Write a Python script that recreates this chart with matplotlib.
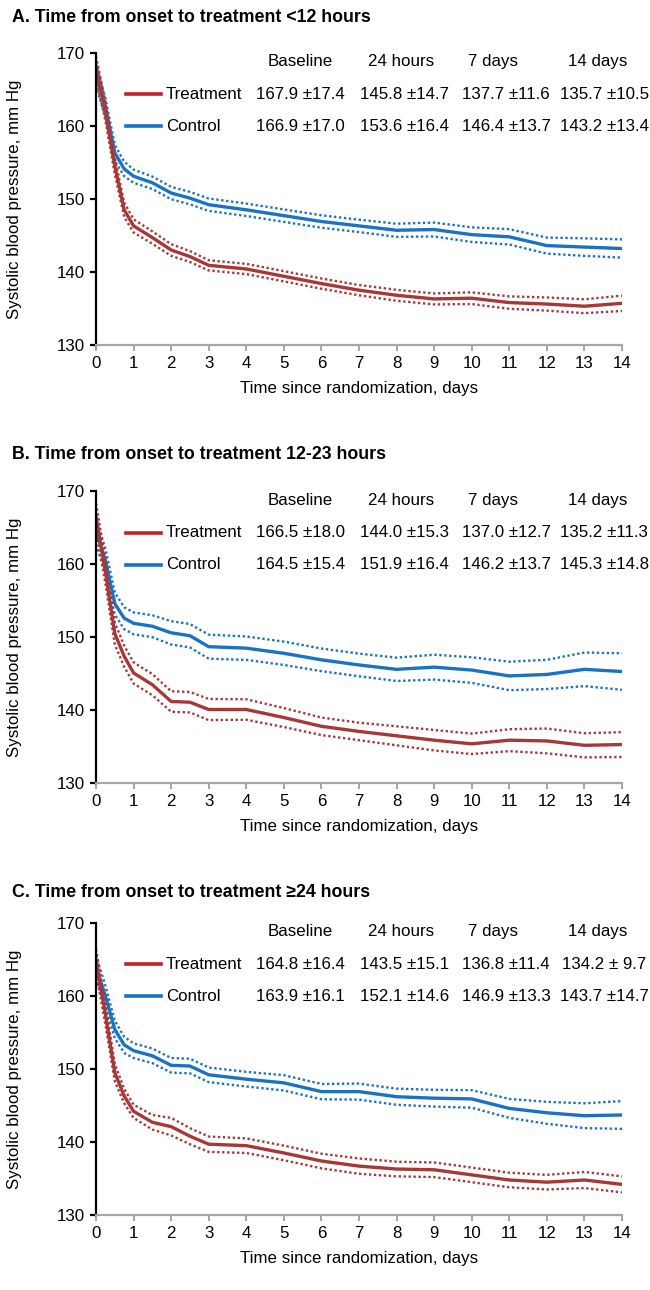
import matplotlib
matplotlib.use('Agg')
import matplotlib.pyplot as plt
from matplotlib.lines import Line2D
import numpy as np

plt.rcParams['font.family'] = ['Liberation Sans', 'DejaVu Sans']

# days since randomization
days = [0, 0.25, 0.5, 0.75, 1, 1.5, 2, 2.5, 3, 4, 5, 6, 7, 8, 9, 10, 11, 12, 13, 14]

# panel A: onset to treatment <12 hours
a_treat = [168.0, 162.0, 154.5, 148.5, 146.3, 144.7, 143.0, 142.1, 140.9, 140.4, 139.4, 138.4,
           137.5, 136.8, 136.3, 136.4, 135.8, 135.6, 135.3, 135.7]
a_treat_ci = [1.5, 1.3, 1.1, 1.0, 0.9, 0.85, 0.8, 0.75, 0.7, 0.7, 0.7, 0.7, 0.7, 0.75, 0.75,
              0.8, 0.85, 0.9, 0.95, 1.05]
a_ctrl = [167.0, 162.5, 156.3, 154.1, 153.1, 152.2, 150.8, 150.1, 149.2, 148.5, 147.7, 146.9,
          146.3, 145.7, 145.8, 145.1, 144.8, 143.6, 143.4, 143.2]
a_ctrl_ci = [1.5, 1.3, 1.1, 1.0, 0.9, 0.85, 0.85, 0.85, 0.85, 0.85, 0.85, 0.85, 0.85, 0.9, 0.95,
             1.0, 1.05, 1.1, 1.2, 1.25]

# panel B: 12-23 hours
b_treat = [166.5, 159.0, 150.5, 147.4, 145.1, 143.5, 141.2, 141.1, 140.1, 140.1, 139.0, 137.8,
           137.1, 136.5, 135.9, 135.4, 135.9, 135.8, 135.2, 135.3]
b_treat_ci = [1.8, 1.6, 1.5, 1.45, 1.45, 1.45, 1.4, 1.4, 1.45, 1.4, 1.3, 1.2, 1.2, 1.3, 1.4,
              1.4, 1.5, 1.7, 1.65, 1.7]
b_ctrl = [164.5, 160.5, 154.6, 152.6, 151.9, 151.5, 150.6, 150.2, 148.7, 148.5, 147.8, 146.9,
          146.2, 145.6, 145.9, 145.5, 144.7, 144.9, 145.6, 145.3]
b_ctrl_ci = [1.8, 1.6, 1.5, 1.5, 1.5, 1.5, 1.6, 1.6, 1.65, 1.6, 1.6, 1.55, 1.55, 1.6, 1.7,
             1.75, 1.95, 2.0, 2.3, 2.5]

# panel C: >=24 hours
c_treat = [164.8, 157.5, 149.5, 146.3, 144.2, 142.7, 142.1, 140.8, 139.7, 139.5, 138.5, 137.4,
           136.7, 136.3, 136.2, 135.5, 134.8, 134.5, 134.8, 134.2]
c_treat_ci = [1.6, 1.4, 1.2, 1.0, 0.9, 1.0, 1.2, 1.1, 1.05, 1.0, 1.0, 1.0, 1.05, 1.0, 1.0,
              1.0, 1.0, 1.0, 1.1, 1.1]
c_ctrl = [163.9, 160.0, 155.4, 153.3, 152.5, 151.8, 150.5, 150.4, 149.2, 148.6, 148.1, 146.9,
          146.9, 146.2, 146.0, 145.9, 144.6, 144.0, 143.6, 143.7]
c_ctrl_ci = [1.6, 1.4, 1.2, 1.1, 1.0, 1.0, 1.0, 1.0, 1.0, 1.0, 1.05, 1.05, 1.1, 1.1, 1.15,
             1.2, 1.3, 1.5, 1.7, 1.9]

titles = ['A. Time from onset to treatment <12 hours',
          'B. Time from onset to treatment 12-23 hours',
          'C. Time from onset to treatment \u226524 hours']
headers = ['Baseline', '24 hours', '7 days', '14 days']
a_treat_txt = ['167.9 \u00b117.4', '145.8 \u00b114.7', '137.7 \u00b111.6', '135.7 \u00b110.5']
a_ctrl_txt = ['166.9 \u00b117.0', '153.6 \u00b116.4', '146.4 \u00b113.7', '143.2 \u00b113.4']
b_treat_txt = ['166.5 \u00b118.0', '144.0 \u00b115.3', '137.0 \u00b112.7', '135.2 \u00b111.3']
b_ctrl_txt = ['164.5 \u00b115.4', '151.9 \u00b116.4', '146.2 \u00b113.7', '145.3 \u00b114.8']
c_treat_txt = ['164.8 \u00b116.4', '143.5 \u00b115.1', '136.8 \u00b111.4', '134.2 \u00b1 9.7']
c_ctrl_txt = ['163.9 \u00b116.1', '152.1 \u00b114.6', '146.9 \u00b113.3', '143.7 \u00b114.7']

panels = [
    (a_treat, a_treat_ci, a_ctrl, a_ctrl_ci, a_treat_txt, a_ctrl_txt),
    (b_treat, b_treat_ci, b_ctrl, b_ctrl_ci, b_treat_txt, b_ctrl_txt),
    (c_treat, c_treat_ci, c_ctrl, c_ctrl_ci, c_treat_txt, c_ctrl_txt),
]

red = '#A63838'
red_leg = '#C42026'
blue = '#1B72C2'
grey = '#A6A6A6'
fs = 12.2

fig = plt.figure(figsize=(6.5, 12.9), dpi=100)
bottoms = [0.7326, 0.3928, 0.0581]
title_y = [0.9868, 0.6473, 0.3078]
head_x = [0.388, 0.580, 0.755, 0.954]
val_x = [0.388, 0.587, 0.780, 0.966]

x = np.array(days)
for i, (tr, tr_ci, ct, ct_ci, tr_txt, ct_txt) in enumerate(panels):
    ax = fig.add_axes([0.1477, bottoms[i], 0.8092, 0.2265])
    tr = np.array(tr)
    ct = np.array(ct)
    dots = (0, (1, 1.1))
    for mean, ci, col in [(ct, np.array(ct_ci), blue), (tr, np.array(tr_ci), red)]:
        ax.plot(x, mean + ci, color=col, lw=1.7, linestyle=dots)
        ax.plot(x, mean - ci, color=col, lw=1.7, linestyle=dots)
        ax.plot(x, mean, color=col, lw=2.4)

    ax.set_xlim(0, 14)
    ax.set_ylim(130, 170)
    ax.set_xticks(range(0, 15))
    ax.set_yticks([130, 140, 150, 160, 170])
    for s in ['top', 'right']:
        ax.spines[s].set_visible(False)
    ax.spines['left'].set_linewidth(1.6)
    ax.spines['left'].set_color('black')
    ax.spines['bottom'].set_linewidth(1.6)
    ax.spines['bottom'].set_color(grey)
    ax.tick_params(axis='y', length=4, width=1.6, color='black', labelsize=fs, pad=4)
    ax.tick_params(axis='x', length=4, width=1.4, color=grey, labelsize=fs, pad=4)
    ax.set_ylabel('Systolic blood pressure, mm Hg', fontsize=fs)
    ax.yaxis.set_label_coords(-0.141, 0.5)
    ax.set_xlabel('Time since randomization, days', fontsize=fs, labelpad=7)

    fig.text(0.018, title_y[i], titles[i], fontsize=12.8, fontweight='bold', va='center')

    # legend / summary table
    for hx, h in zip(head_x, headers):
        ax.text(hx, 0.969, h, transform=ax.transAxes, ha='center', va='center', fontsize=fs)
    for yy, lab, col, txts in [(0.858, 'Treatment', red_leg, tr_txt), (0.748, 'Control', blue, ct_txt)]:
        ax.add_line(Line2D([0.057, 0.124], [yy, yy], transform=ax.transAxes, color=col, lw=2.6,
                           clip_on=False))
        ax.text(0.133, yy, lab, transform=ax.transAxes, ha='left', va='center', fontsize=fs)
        for vx, t in zip(val_x, txts):
            ax.text(vx, yy, t, transform=ax.transAxes, ha='center', va='center', fontsize=fs)

fig.savefig('out.png', dpi=100)
